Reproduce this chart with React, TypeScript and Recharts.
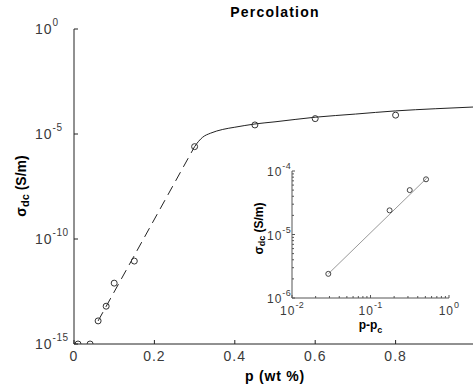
import React from 'react';
import { ComposedChart, Line, Scatter, XAxis, YAxis } from 'recharts';

const FONT = "'Liberation Sans', Arial, Helvetica, sans-serif";
const INK = '#222';
const TICK_INK = '#3a3a3a';

// ---- main chart data ----
const pWt = [0.01, 0.04, 0.06, 0.08, 0.1, 0.15, 0.3, 0.45, 0.6, 0.8];
const sigmaDc = [1e-15, 1e-15, 1.26e-14, 6.3e-14, 7.9e-13, 8.9e-12, 2.5e-6, 2.7e-5, 5.4e-5, 7.9e-5];
const dashP = [0.06, 0.3];
const dashS = [1.26e-14, 2.5e-6];
const fitP = [0.3, 0.31, 0.32, 0.34, 0.37, 0.4, 0.45, 0.5, 0.6, 0.7, 0.8, 0.9, 1.0];
const fitS = [2.5e-6, 4.5e-6, 7.0e-6, 1.1e-5, 1.65e-5, 2.1e-5, 3.0e-5, 3.8e-5, 6.3e-5, 8.9e-5, 1.26e-4, 1.6e-4, 1.95e-4];

const xTicks = [0, 0.2, 0.4, 0.6, 0.8, 1];
const xTickLabels = ['0', '0.2', '0.4', '0.6', '0.8', ''];
const yTicks = [1e-15, 1e-10, 1e-5, 1];
const yTickExps = ['-15', '-10', '-5', '0'];
const title = 'Percolation';

// ---- inset data ----
const inDp = [0.029, 0.175, 0.316, 0.51];
const inSigma = [2.4e-6, 2.4e-5, 5.0e-5, 7.4e-5];
const inFitDp = [0.029, 0.52];
const inFitS = [2.4e-6, 7.7e-5];

const inXTicks = [0.01, 0.02, 0.03, 0.04, 0.05, 0.06, 0.07, 0.08, 0.09, 0.1, 0.2, 0.3, 0.4, 0.5, 0.6, 0.7, 0.8, 0.9, 1];
const inXMajor = [0.01, 0.1, 1];
const inXExps = ['-2', '-1', '0'];
const inYTicks = [1e-6, 2e-6, 3e-6, 4e-6, 5e-6, 6e-6, 7e-6, 8e-6, 9e-6, 1e-5, 2e-5, 3e-5, 4e-5, 5e-5, 6e-5, 7e-5, 8e-5, 9e-5, 1e-4];
const inYMajor = [1e-6, 1e-5, 1e-4];
const inYExps = ['-6', '-5', '-4'];

const zip = (xs: number[], ys: number[]) => xs.map((x, i) => ({ x, y: ys[i] }));

const mainPts = zip(pWt, sigmaDc);
const dashData = zip(dashP, dashS);
const fitData = zip(fitP, fitS);
const inPts = zip(inDp, inSigma);
const inFit = zip(inFitDp, inFitS);

// ---- tick renderers (inward tick marks, MATLAB style) ----
const MainBottomTick = (props: any) => {
  const { x, y, index } = props;
  return (
    <g>
      <line x1={x} y1={y} x2={x} y2={y - 4} stroke={INK} />
      <text x={x} y={y + 17} textAnchor="middle" fontFamily={FONT} fontSize={14} letterSpacing={1} fill={TICK_INK}>
        {xTickLabels[index]}
      </text>
    </g>
  );
};
const MainTopTick = (props: any) => {
  const { x, y } = props;
  return <line x1={x} y1={y} x2={x} y2={y + 4} stroke={INK} />;
};
const MainLeftTick = (props: any) => {
  const { x, y, index } = props;
  return (
    <g>
      <line x1={x} y1={y} x2={x + 4} y2={y} stroke={INK} />
      <text x={x - 39} y={y + 5} fontFamily={FONT} fontSize={14} letterSpacing={1} fill={TICK_INK}>
        10<tspan dy={-8} fontSize={10} letterSpacing={0.5}>{yTickExps[index]}</tspan>
      </text>
    </g>
  );
};
const MainRightTick = (props: any) => {
  const { x, y } = props;
  return <line x1={x} y1={y} x2={x - 4} y2={y} stroke={INK} />;
};

const InBottomTick = (props: any) => {
  const { x, y, payload } = props;
  const mi = inXMajor.indexOf(payload.value);
  const len = mi >= 0 ? 3 : 2;
  return (
    <g>
      <line x1={x} y1={y} x2={x} y2={y - len} stroke="#555" />
      {mi >= 0 && (
        <text x={x} y={y + 17} textAnchor="middle" fontFamily={FONT} fontSize={12} letterSpacing={1} fill={TICK_INK}>
          10<tspan dy={-7} fontSize={9} letterSpacing={0.3}>{inXExps[mi]}</tspan>
        </text>
      )}
    </g>
  );
};
const InTopTick = (props: any) => {
  const { x, y, payload } = props;
  const len = inXMajor.indexOf(payload.value) >= 0 ? 3 : 2;
  return <line x1={x} y1={y} x2={x} y2={y + len} stroke="#555" />;
};
const InLeftTick = (props: any) => {
  const { x, y, payload } = props;
  const mi = inYMajor.indexOf(payload.value);
  const len = mi >= 0 ? 3 : 2;
  return (
    <g>
      <line x1={x} y1={y} x2={x + len} y2={y} stroke="#555" />
      {mi >= 0 && (
        <text x={x - 25} y={y + 5} fontFamily={FONT} fontSize={12} letterSpacing={1} fill={TICK_INK}>
          10<tspan dy={-7} fontSize={9} letterSpacing={0.3}>{inYExps[mi]}</tspan>
        </text>
      )}
    </g>
  );
};
const InRightTick = (props: any) => {
  const { x, y, payload } = props;
  const len = inYMajor.indexOf(payload.value) >= 0 ? 3 : 2;
  return <line x1={x} y1={y} x2={x - len} y2={y} stroke="#555" />;
};

const MainDot = (props: any) => (
  <circle cx={props.cx} cy={props.cy} r={3} fill="none" stroke="#333" strokeWidth={1} />
);
const InDot = (props: any) => (
  <circle cx={props.cx} cy={props.cy} r={2.5} fill="none" stroke="#444" strokeWidth={1} />
);

// ---- labels ----
const MainXLabel = (props: any) => {
  const vb = props.viewBox;
  return (
    <text x={vb.x + vb.width / 2} y={vb.y + 37} textAnchor="middle" fontFamily={FONT} fontWeight="bold" fontSize={14} letterSpacing={0.8} fill="#000">
      p (wt %)
    </text>
  );
};
const MainYLabel = (props: any) => {
  const vb = props.viewBox;
  const cx = 22;
  const cy = 186;
  // plot centre (for title) = left edge of plot + half of plot width (plot right edge at 476)
  const titleX = vb.x + vb.width + (476 - (vb.x + vb.width)) / 2;
  return (
    <g>
      <text x={titleX} y={vb.y - 12} textAnchor="middle" fontFamily={FONT} fontWeight="bold" fontSize={14} letterSpacing={1.2} fill="#000">
        {title}
      </text>
      <text x={cx} y={cy} transform={`rotate(-90 ${cx} ${cy})`} textAnchor="middle" dominantBaseline="middle" fontFamily={FONT} fontWeight="bold" fontSize={14} fill="#000">
        σ<tspan dy={4} fontSize={11}>dc</tspan><tspan dy={-4}> (S/m)</tspan>
      </text>
    </g>
  );
};
const InXLabel = (props: any) => {
  const vb = props.viewBox;
  return (
    <text x={vb.x + vb.width / 2} y={vb.y + 31} textAnchor="middle" fontFamily={FONT} fontWeight="bold" fontSize={12} fill="#000">
      p-p<tspan dy={4} fontSize={9}>c</tspan>
    </text>
  );
};
const InYLabel = (props: any) => {
  const vb = props.viewBox;
  const cx = 20;
  const cy = vb.y + vb.height / 2 - 6;
  return (
    <text x={cx} y={cy} transform={`rotate(-90 ${cx} ${cy})`} textAnchor="middle" dominantBaseline="middle" fontFamily={FONT} fontWeight="bold" fontSize={12} fill="#000">
      σ<tspan dy={3} fontSize={9}>dc</tspan><tspan dy={-3}> (S/m)</tspan>
    </text>
  );
};

export default function App() {
  return (
    <div style={{ position: 'absolute', left: 0, top: 0, width: 473, height: 389, overflow: 'hidden', background: '#fff' }}>
      <div style={{ position: 'absolute', left: 0, top: 0 }}>
        <ComposedChart width={490} height={389} margin={{ top: 29, right: 14, left: 0, bottom: 0 }}>
          <XAxis
            xAxisId="b"
            dataKey="x"
            type="number"
            domain={[0, 1]}
            ticks={xTicks}
            interval={0}
            allowDataOverflow
            height={45}
            tickSize={0}
            tickMargin={0}
            tickLine={false}
            axisLine={{ stroke: INK }}
            tick={<MainBottomTick />}
            label={{ content: MainXLabel }}
          />
          <XAxis
            xAxisId="t"
            orientation="top"
            dataKey="x"
            type="number"
            domain={[0, 1]}
            ticks={xTicks}
            interval={0}
            allowDataOverflow
            height={0}
            tickSize={0}
            tickMargin={0}
            tickLine={false}
            axisLine={{ stroke: INK }}
            tick={<MainTopTick />}
          />
          <YAxis
            yAxisId="l"
            dataKey="y"
            type="number"
            scale="log"
            domain={[1e-15, 1]}
            ticks={yTicks}
            interval={0}
            allowDataOverflow
            width={74}
            tickSize={0}
            tickMargin={0}
            tickLine={false}
            axisLine={{ stroke: INK }}
            tick={<MainLeftTick />}
            label={{ content: MainYLabel }}
          />
          <YAxis
            yAxisId="r"
            orientation="right"
            dataKey="y"
            type="number"
            scale="log"
            domain={[1e-15, 1]}
            ticks={yTicks}
            interval={0}
            allowDataOverflow
            width={0}
            tickSize={0}
            tickMargin={0}
            tickLine={false}
            axisLine={{ stroke: INK }}
            tick={<MainRightTick />}
          />
          <Line xAxisId="b" yAxisId="l" data={dashData} dataKey="y" type="linear" stroke="#222" strokeWidth={1} strokeDasharray="10 6" dot={false} activeDot={false} isAnimationActive={false} />
          <Line xAxisId="b" yAxisId="l" data={fitData} dataKey="y" type="monotone" stroke="#222" strokeWidth={1} dot={false} activeDot={false} isAnimationActive={false} />
          <Scatter xAxisId="b" yAxisId="l" data={mainPts} dataKey="y" shape={<MainDot />} isAnimationActive={false} />
        </ComposedChart>
      </div>
      <div style={{ position: 'absolute', left: 240, top: 160 }}>
        <ComposedChart width={220} height={180} margin={{ top: 11, right: 11, left: 0, bottom: 0 }}>
          <XAxis
            xAxisId="b"
            dataKey="x"
            type="number"
            scale="log"
            domain={[0.01, 1]}
            ticks={inXTicks}
            interval={0}
            allowDataOverflow
            height={42}
            tickSize={0}
            tickMargin={0}
            tickLine={false}
            axisLine={{ stroke: '#555' }}
            tick={<InBottomTick />}
            label={{ content: InXLabel }}
          />
          <XAxis
            xAxisId="t"
            orientation="top"
            dataKey="x"
            type="number"
            scale="log"
            domain={[0.01, 1]}
            ticks={inXTicks}
            interval={0}
            allowDataOverflow
            height={0}
            tickSize={0}
            tickMargin={0}
            tickLine={false}
            axisLine={{ stroke: '#555' }}
            tick={<InTopTick />}
          />
          <YAxis
            yAxisId="l"
            dataKey="y"
            type="number"
            scale="log"
            domain={[1e-6, 1e-4]}
            ticks={inYTicks}
            interval={0}
            allowDataOverflow
            width={52}
            tickSize={0}
            tickMargin={0}
            tickLine={false}
            axisLine={{ stroke: '#555' }}
            tick={<InLeftTick />}
            label={{ content: InYLabel }}
          />
          <YAxis
            yAxisId="r"
            orientation="right"
            dataKey="y"
            type="number"
            scale="log"
            domain={[1e-6, 1e-4]}
            ticks={inYTicks}
            interval={0}
            allowDataOverflow
            width={0}
            tickSize={0}
            tickMargin={0}
            tickLine={false}
            axisLine={{ stroke: '#555' }}
            tick={<InRightTick />}
          />
          <Line xAxisId="b" yAxisId="l" data={inFit} dataKey="y" type="linear" stroke="#999" strokeWidth={1} dot={false} activeDot={false} isAnimationActive={false} />
          <Scatter xAxisId="b" yAxisId="l" data={inPts} dataKey="y" shape={<InDot />} isAnimationActive={false} />
        </ComposedChart>
      </div>
    </div>
  );
}
